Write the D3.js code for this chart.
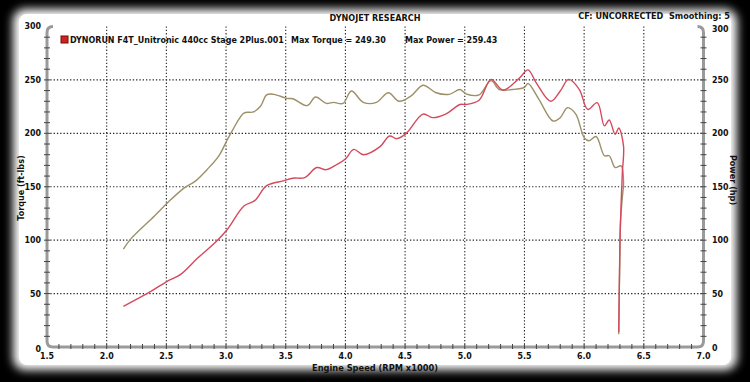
<!DOCTYPE html>
<html><head><meta charset="utf-8">
<script src="https://cdn.jsdelivr.net/npm/d3@7"></script>
<style>
html,body{margin:0;padding:0;background:#000;}
svg{display:block;}
text{font-family:"DejaVu Sans Condensed","DejaVu Sans",Verdana,sans-serif;font-weight:bold;fill:#111;white-space:pre;}
</style></head>
<body><svg id="c" width="750" height="382"></svg>
<script>
const titleText = "DYNOJET RESEARCH";
const cfText = "CF: UNCORRECTED  Smoothing: 5";
const runName = "DYNORUN F4T_Unitronic 440cc Stage 2Plus.001";
const maxTorqueText = "Max Torque = 249.30";
const maxPowerText = "Max Power = 259.43";
const xTicks = [1.5,2.0,2.5,3.0,3.5,4.0,4.5,5.0,5.5,6.0,6.5,7.0];
const yTicks = [0,50,100,150,200,250,300];

const torqueRpm = [2.14,2.20,2.40,2.51,2.65,2.74,2.84,2.94,3.01,3.06,3.15,3.23,3.29,3.34,3.40,3.51,3.56,3.68,3.75,3.84,3.90,3.98,4.05,4.15,4.26,4.36,4.45,4.55,4.65,4.76,4.87,4.96,5.01,5.12,5.22,5.29,5.40,5.50,5.53,5.62,5.74,5.80,5.86,5.93,6.00,6.04,6.10,6.17,6.21,6.26,6.31,6.33,6.32,6.305,6.30,6.295,6.29];
const torqueVal = [91.6,101,122.7,135,149,155,166,179,194,204,219,220,225.6,236,236.5,232.7,232.4,226,234,228,229,228,239.6,229,229,238,230,235,245,238,236.5,241,237,236,249.3,241,241,243,246.7,232,211.5,214.7,224,218,196,193,197,179,179,168,169.5,154,140,118,90,55,12];

const powerRpm = [2.14,2.37,2.50,2.62,2.76,2.92,3.01,3.15,3.24,3.34,3.48,3.56,3.66,3.76,3.84,3.93,4.00,4.07,4.15,4.29,4.37,4.43,4.51,4.65,4.73,4.84,4.96,5.01,5.12,5.22,5.32,5.46,5.53,5.60,5.72,5.80,5.87,5.96,6.03,6.11,6.17,6.21,6.26,6.29,6.33,6.32,6.31,6.30,6.295,6.29];
const powerVal = [38,52,61,68,83,99,110,132,137,151,155.5,158,158.6,168,166,171,176,185,180,187.6,197.5,195,200,218,214.7,218,227,227,231,250.5,240.5,252,259.43,247,230,239.6,250.5,241,222.4,228.7,207,212.5,199,205,188,163,135,100,60,14];

const svg = d3.select("#c");
const defs = svg.append("defs");
const f = defs.append("filter").attr("id","blur").attr("x","-10%").attr("y","-10%").attr("width","120%").attr("height","120%");
f.append("feGaussianBlur").attr("stdDeviation",5);

svg.append("rect").attr("width",750).attr("height",382).attr("fill","#000");
svg.append("rect").attr("x",13).attr("y",9).attr("width",724).attr("height",361).attr("rx",12)
  .attr("fill","#fff").attr("filter","url(#blur)");
svg.append("rect").attr("x",19).attr("y",14).attr("width",712).attr("height",351).attr("rx",8)
  .attr("fill","#fff");

const x = d3.scaleLinear().domain([1.5,7.0]).range([47,703.5]);
const y = d3.scaleLinear().domain([0,300]).range([347,26.5]);

// gridlines
const grid = svg.append("g").attr("stroke","#222").attr("stroke-width",1.1).attr("stroke-dasharray","1.3,2");
grid.selectAll(".vx").data(xTicks.filter(d=>d>1.5&&d<7)).enter().append("line")
  .attr("x1",d=>x(d)).attr("x2",d=>x(d)).attr("y1",y(300)).attr("y2",y(0));
grid.selectAll(".hy").data(yTicks.filter(d=>d>0&&d<300)).enter().append("line")
  .attr("x1",x(1.5)).attr("x2",x(7)).attr("y1",d=>y(d)).attr("y2",d=>y(d));

// axis frame (gray, rounded corners)
const ax = svg.append("g");
const r = 6;
const framePath = `M${x(1.5)+r},${y(300)} Q${x(1.5)},${y(300)} ${x(1.5)},${y(300)+r} L${x(1.5)},${y(0)-r} Q${x(1.5)},${y(0)} ${x(1.5)+r},${y(0)} L${x(7)-r},${y(0)} Q${x(7)},${y(0)} ${x(7)},${y(0)-r} L${x(7)},${y(300)+r} Q${x(7)},${y(300)} ${x(7)-r},${y(300)}`;
ax.append("path").attr("d",framePath).attr("fill","none").attr("stroke","#9a9a9a").attr("stroke-width",3);

// minor ticks
const yMinor = d3.range(10,300,10);
ax.selectAll(".ly").data(yMinor).enter().append("line")
  .attr("x1",x(1.5)-3).attr("x2",x(1.5)+3).attr("y1",d=>y(d)).attr("y2",d=>y(d))
  .attr("stroke","#444").attr("stroke-width",1);
ax.selectAll(".ry").data(yMinor).enter().append("line")
  .attr("x1",x(7)-3).attr("x2",x(7)+3).attr("y1",d=>y(d)).attr("y2",d=>y(d))
  .attr("stroke","#444").attr("stroke-width",1);
const xMinor = d3.range(1.6,7.0,0.1).map(v=>+v.toFixed(1));
ax.selectAll(".bx").data(xMinor).enter().append("line")
  .attr("x1",d=>x(d)).attr("x2",d=>x(d)).attr("y1",y(0)-3).attr("y2",y(0)+2)
  .attr("stroke","#444").attr("stroke-width",1);

// tick labels
const fs = "8.8px";
svg.append("g").selectAll("text").data(yTicks).enter().append("text")
  .attr("x",41).attr("y",d=>y(d)+ (d===0?5:(d===300?2:3))).attr("text-anchor","end").style("font-size",fs).text(d=>d);
svg.append("g").selectAll("text").data(yTicks).enter().append("text")
  .attr("x",712).attr("y",d=>y(d)+ (d===0?4:(d===300?5:3))).attr("text-anchor","start").style("font-size",fs).text(d=>d);
svg.append("g").selectAll("text").data(xTicks).enter().append("text")
  .attr("x",d=>x(d)).attr("y",359).attr("text-anchor","middle").style("font-size",fs).text(d=>d.toFixed(1));

// axis titles
svg.append("text").attr("x",375).attr("y",371).attr("text-anchor","middle").style("font-size","9.2px").text("Engine Speed (RPM x1000)");
svg.append("text").attr("transform","translate(24,188) rotate(-90)").attr("text-anchor","middle").style("font-size","9px").text("Torque (ft-lbs)");
svg.append("text").attr("transform","translate(730,180) rotate(90)").attr("text-anchor","middle").style("font-size","9px").text("Power (hp)");

// header
svg.append("text").attr("x",375).attr("y",21).attr("text-anchor","middle").style("font-size","9px").text(titleText);
svg.append("text").attr("x",730).attr("y",19).attr("text-anchor","end").style("font-size","9px").text(cfText);

// legend
svg.append("rect").attr("x",61).attr("y",36).attr("width",7).attr("height",7).attr("fill","#d42020").attr("stroke","#6a1010").attr("stroke-width",1);
svg.append("text").attr("x",70).attr("y",43).style("font-size","8.9px").text(runName);
svg.append("text").attr("x",291).attr("y",43).style("font-size","8.9px").text(maxTorqueText);
svg.append("text").attr("x",405).attr("y",43).style("font-size","8.9px").text(maxPowerText);

// curves
const line = d3.line().x(d=>x(d[0])).y(d=>y(d[1])).curve(d3.curveCatmullRom.alpha(0.5));
const tData = torqueRpm.map((v,i)=>[v,torqueVal[i]]);
const pData = powerRpm.map((v,i)=>[v,powerVal[i]]);
svg.append("path").datum(tData).attr("d",line).attr("fill","none").attr("stroke","#9c9068").attr("stroke-width",1.4);
svg.append("path").datum(pData).attr("d",line).attr("fill","none").attr("stroke","#d44a5c").attr("stroke-width",1.4);
</script></body></html>
